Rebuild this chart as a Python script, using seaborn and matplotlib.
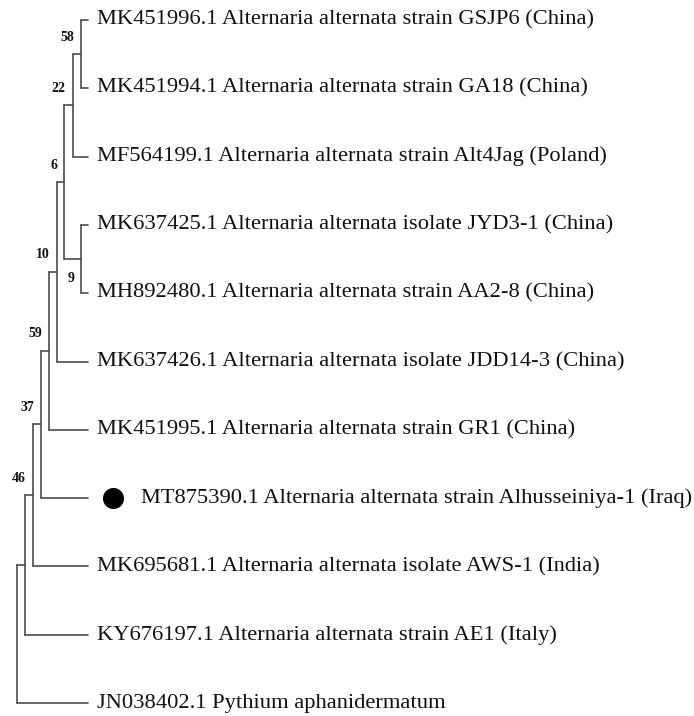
import matplotlib
matplotlib.use("Agg")
import matplotlib.pyplot as plt
import numpy as np
import pandas as pd
import seaborn as sns

# leaves, top to bottom
leaf_names = [
    "MK451996.1 Alternaria alternata strain GSJP6 (China)",
    "MK451994.1 Alternaria alternata strain GA18 (China)",
    "MF564199.1 Alternaria alternata strain Alt4Jag (Poland)",
    "MK637425.1 Alternaria alternata isolate JYD3-1 (China)",
    "MH892480.1 Alternaria alternata strain AA2-8 (China)",
    "MK637426.1 Alternaria alternata isolate JDD14-3 (China)",
    "MK451995.1 Alternaria alternata strain GR1 (China)",
    "MT875390.1 Alternaria alternata strain Alhusseiniya-1 (Iraq)",
    "MK695681.1 Alternaria alternata isolate AWS-1 (India)",
    "KY676197.1 Alternaria alternata strain AE1 (Italy)",
    "JN038402.1 Pythium aphanidermatum",
]
highlight_leaf = 7
leaf_depth = 71

# internal nodes: name, child 1, child 2, depth, bootstrap, label below
node_names = ["A", "B", "D", "C", "E", "F", "G", "H", "I", "root"]
node_child1 = [0, "A", 3, "B", "C", "E", "F", "G", "H", "I"]
node_child2 = [1, 2, 4, "D", 5, 6, 7, 8, 9, 10]
node_depth = [64, 55.5, 64, 47, 40, 32, 24, 16, 8, 0]
node_support = [58, 22, 9, 6, 10, 59, 37, 46, None, None]
node_below = [False, False, True, False, False, False, False, False, False, False]

# positions
pos = {i: (leaf_depth, float(i)) for i in range(len(leaf_names))}
for name, c1, c2, d in zip(node_names, node_child1, node_child2, node_depth):
    pos[name] = (d, (pos[c1][1] + pos[c2][1]) / 2)

rows = []
seg = 0
for name, c1, c2 in zip(node_names, node_child1, node_child2):
    x, y = pos[name]
    rows += [(seg, x, pos[c1][1]), (seg, x, pos[c2][1])]
    seg += 1
    for c in (c1, c2):
        rows += [(seg, x, pos[c][1]), (seg, pos[c][0], pos[c][1])]
        seg += 1
segs = pd.DataFrame(rows, columns=["seg", "x", "y"])

sns.set_style("white")
plt.rcParams["font.family"] = ["Liberation Serif", "DejaVu Serif"]

fig = plt.figure(figsize=(6.94, 7.16), dpi=100)
ax = fig.add_axes([0, 0, 1, 1])

sns.lineplot(data=segs, x="x", y="y", units="seg", estimator=None, sort=False,
             color="#4d4d4d", linewidth=1.2, ax=ax, legend=False)

# leaf labels
for i, label in enumerate(leaf_names):
    if i == highlight_leaf:
        ax.scatter([leaf_depth + 25], [i], s=200, color="black", zorder=3)
        ax.text(leaf_depth + 53, i, label, va="center", ha="left", fontsize=16.2, color="#111111")
    else:
        ax.text(leaf_depth + 9, i, label, va="center", ha="left", fontsize=16.2, color="#111111")

# bootstrap values
for name, sup, below in zip(node_names, node_support, node_below):
    if sup is None:
        continue
    x, y = pos[name]
    dy = 0.29 if below else -0.25
    ax.text(x - 7, y + dy, str(sup), ha="right", va="center", fontsize=10,
            fontweight="bold", color="#111111")

ax.set_xlim(-17, 677)
ax.set_ylim(10.19, -0.293)
ax.axis("off")

fig.savefig("out.png", dpi=100)
